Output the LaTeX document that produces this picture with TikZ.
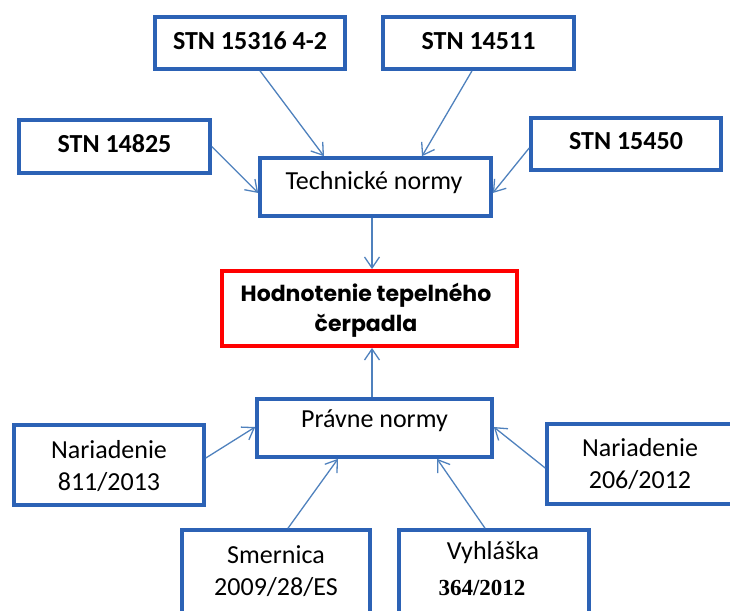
\documentclass[tikz,border=0pt]{standalone}
\usepackage{fontspec}
\setmainfont{Carlito}
\newfontfamily\geofont{Poppins}
\newfontfamily\timesfont{Liberation Serif}
\usetikzlibrary{arrows.meta,calc}
\definecolor{boxblue}{HTML}{2C62B5}
\definecolor{arrowblue}{HTML}{4F81BD}
\definecolor{boxred}{HTML}{FF0000}
\begin{document}
\begin{tikzpicture}[x=1pt,y=-1pt,
  box/.style={draw=boxblue, line width=3.6pt, rectangle, inner sep=0pt, fill=white},
  redbox/.style={draw=boxred, line width=3.8pt, rectangle, inner sep=0pt, fill=white},
  lbl/.style={inner sep=0pt, align=center, font=\fontsize{26}{32}\selectfont},
  conn/.style={draw=arrowblue, line width=1.3pt, -{Straight Barb[length=11pt,width=15pt,line width=1.3pt]}}
]
\useasboundingbox (0,0) rectangle (730,610);
\clip (0,0) rectangle (730,610);
% boxes
\node[box, minimum width=190pt, minimum height=52pt] (s15316) at (250,43) {};
\node[box, minimum width=191pt, minimum height=53pt] (s14825) at (114.5,146.5) {};
\node[box, minimum width=231pt, minimum height=58pt] (tech) at (375.5,187) {};
\node[box, minimum width=191pt, minimum height=52pt] (s14511) at (478.5,43) {};
\node[box, minimum width=190pt, minimum height=52pt] (s15450) at (626,144) {};
\node[redbox, minimum width=295pt, minimum height=75pt] (hod) at (369.5,308.5) {};
\node[box, minimum width=235pt, minimum height=58pt] (pravne) at (374.5,428) {};
\node[box, minimum width=190pt, minimum height=80pt] (n811) at (109,465) {};
\node[box, minimum width=188pt, minimum height=120pt] (smer) at (276,590) {};
\node[box, minimum width=190pt, minimum height=120pt] (vyh) at (494,590) {};
\node[box, minimum width=213pt, minimum height=80pt] (n206) at (653.5,464) {};
% labels
\node[lbl] (l15316) at (250,41) {\textbf{STN 15316 4-2}};
\node[lbl] (l14825) at (114.5,144) {\textbf{STN 14825}};
\node[lbl] (l14511) at (478.5,41) {\textbf{STN 14511}};
\node[lbl] (l15450) at (626,141) {\textbf{STN 15450}};
\node[lbl] (ltech) at (374,183) {Technické normy};
\node[lbl, font=\geofont\bfseries\fontsize{22}{30}\selectfont] (lhod) at (366,310) {Hodnotenie tepelného\\čerpadla};
\node[lbl] (lpravne) at (374.5,421) {Právne normy};
\node[lbl] (ln811) at (109,466) {Nariadenie\\811/2013};
\node[lbl] (ln206) at (640,464) {Nariadenie\\206/2012};
\node[lbl] (lsmer) at (276,571) {Smernica\\2009/28/ES};
\node[lbl] (lvyh) at (493,553) {Vyhláška};
\node[lbl, font=\timesfont\bfseries\fontsize{23}{28}\selectfont] (l364) at (482,588) {364/2012};
% connectors
\draw[conn] ($(s15316.south)+(10,0)$) -- ($(tech.north)+(-51.5,0)$);
\draw[conn] ($(s14825.east)+(0,0)$) -- ($(tech.west)+(0,6)$);
\draw[conn] ($(s14511.south)+(-6.5,0)$) -- ($(tech.north)+(46.5,0)$);
\draw[conn] ($(s15450.west)+(0,4)$) -- ($(tech.east)+(0,6)$);
\draw[conn] ($(tech.south)+(-3.5,0)$) -- ($(hod.north)+(2.5,0)$);
\draw[conn] ($(pravne.north)+(-2.5,0)$) -- ($(hod.south)+(2.5,0)$);
\draw[conn] ($(n811.east)+(0,-7)$) -- ($(pravne.west)+(0,-1)$);
\draw[conn] ($(smer.north)+(12,0)$) -- ($(pravne.south)+(-36.5,0)$);
\draw[conn] ($(vyh.north)+(-9,0)$) -- ($(pravne.south)+(62.5,0)$);
\draw[conn] ($(n206.west)+(0,4)$) -- ($(pravne.east)+(0,-1)$);
\end{tikzpicture}
\end{document}
